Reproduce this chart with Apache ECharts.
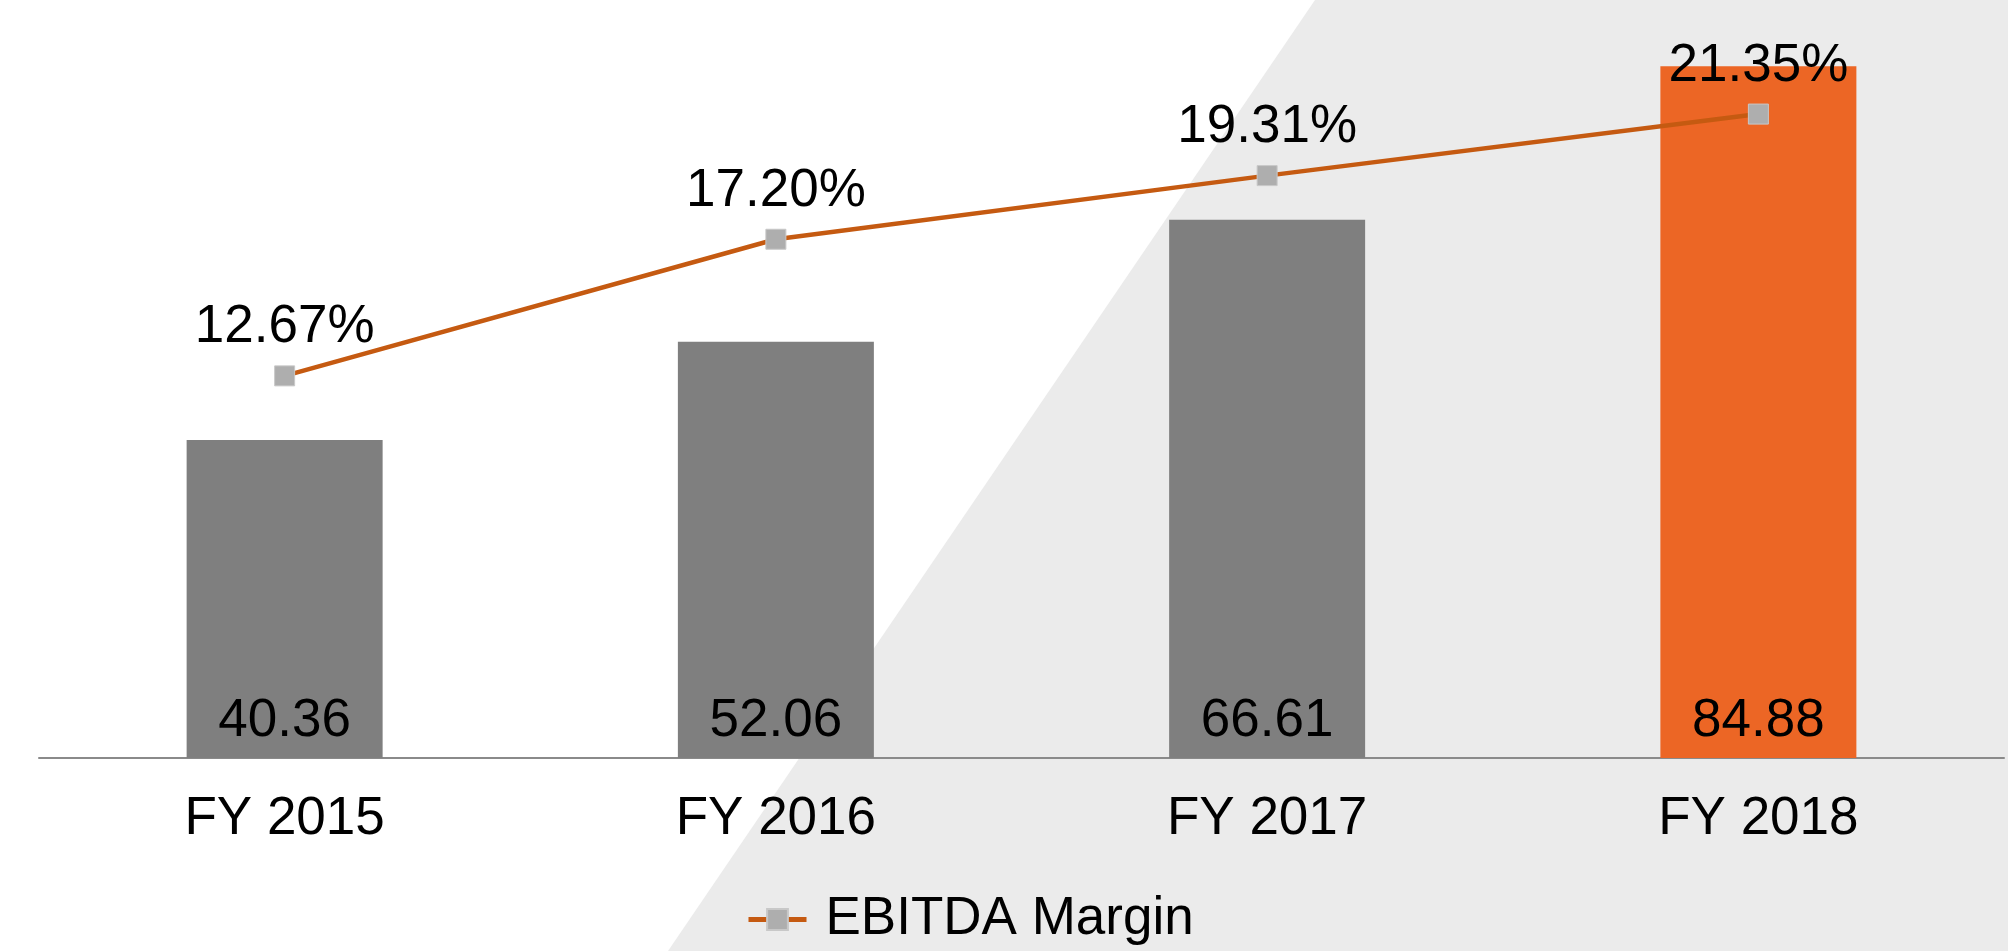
<!DOCTYPE html>
<html>
<head>
<meta charset="utf-8">
<script src="https://cdn.jsdelivr.net/npm/echarts@6/dist/echarts.min.js"></script>
<style>
  html, body { margin: 0; padding: 0; background: #fff; }
  #chart { width: 2008px; height: 951px; }
</style>
</head>
<body>
<div id="chart"></div>
<script>
// values
const categories = ['FY 2015', 'FY 2016', 'FY 2017', 'FY 2018'];
const ebitdaValues = [40.36, 52.06, 66.61, 84.88];
const marginValues = [12.67, 17.20, 19.31, 21.35];
const barColors = ['#7f7f7f', '#7f7f7f', '#7f7f7f', '#ec6625'];

const chart = echarts.init(document.getElementById('chart'));
const font = '"Liberation Sans", Arial, sans-serif';

const option = {
  backgroundColor: '#fff',
  animation: false,
  textStyle: { fontFamily: font },
  // light grey diagonal panel behind the chart
  graphic: [{
    type: 'polygon',
    silent: true,
    z: -10,
    shape: { points: [[1315, 0], [2008, 0], [2008, 951], [668, 951]] },
    style: { fill: '#ebebeb' }
  }],
  legend: {
    data: ['EBITDA Margin'],
    left: 741,
    top: 888,
    itemWidth: 58,
    itemHeight: 26,
    lineStyle: { width: 5 },
    textStyle: { fontSize: 53, color: '#000', fontFamily: font, padding: [0, 0, 0, 14] }
  },
  grid: { left: 39, right: 4, top: 4, bottom: 193 },
  xAxis: {
    type: 'category',
    data: categories,
    axisLine: { lineStyle: { color: '#8a8a8a', width: 2 } },
    axisTick: { show: false },
    axisLabel: { fontSize: 53, color: '#000', margin: 35, fontFamily: font }
  },
  yAxis: [
    { type: 'value', min: 2.5, max: 92.3, show: false, splitLine: { show: false } },
    { type: 'value', min: 0, max: 25, show: false, splitLine: { show: false } }
  ],
  series: [
    {
      type: 'bar',
      yAxisIndex: 0,
      barWidth: 196,
      data: ebitdaValues.map((v, i) => ({ value: v, itemStyle: { color: barColors[i] } })),
      label: {
        show: true,
        position: 'insideBottom',
        distance: 10,
        fontSize: 53,
        color: '#000',
        fontFamily: font,
        formatter: p => p.value.toFixed(2)
      }
    },
    {
      name: 'EBITDA Margin',
      type: 'line',
      yAxisIndex: 1,
      data: marginValues,
      symbol: 'rect',
      symbolSize: 20,
      lineStyle: { color: '#c55a11', width: 4.5 },
      itemStyle: { color: '#aeaeae', borderColor: '#c8c8c8', borderWidth: 1 },
      label: {
        show: true,
        position: 'top',
        distance: 11,
        fontSize: 53,
        color: '#000',
        fontFamily: font,
        formatter: p => p.value.toFixed(2) + '%'
      }
    }
  ]
};

chart.setOption(option);

window.addEventListener('resize', function () {
  chart.resize();
});
</script>
</body>
</html>
